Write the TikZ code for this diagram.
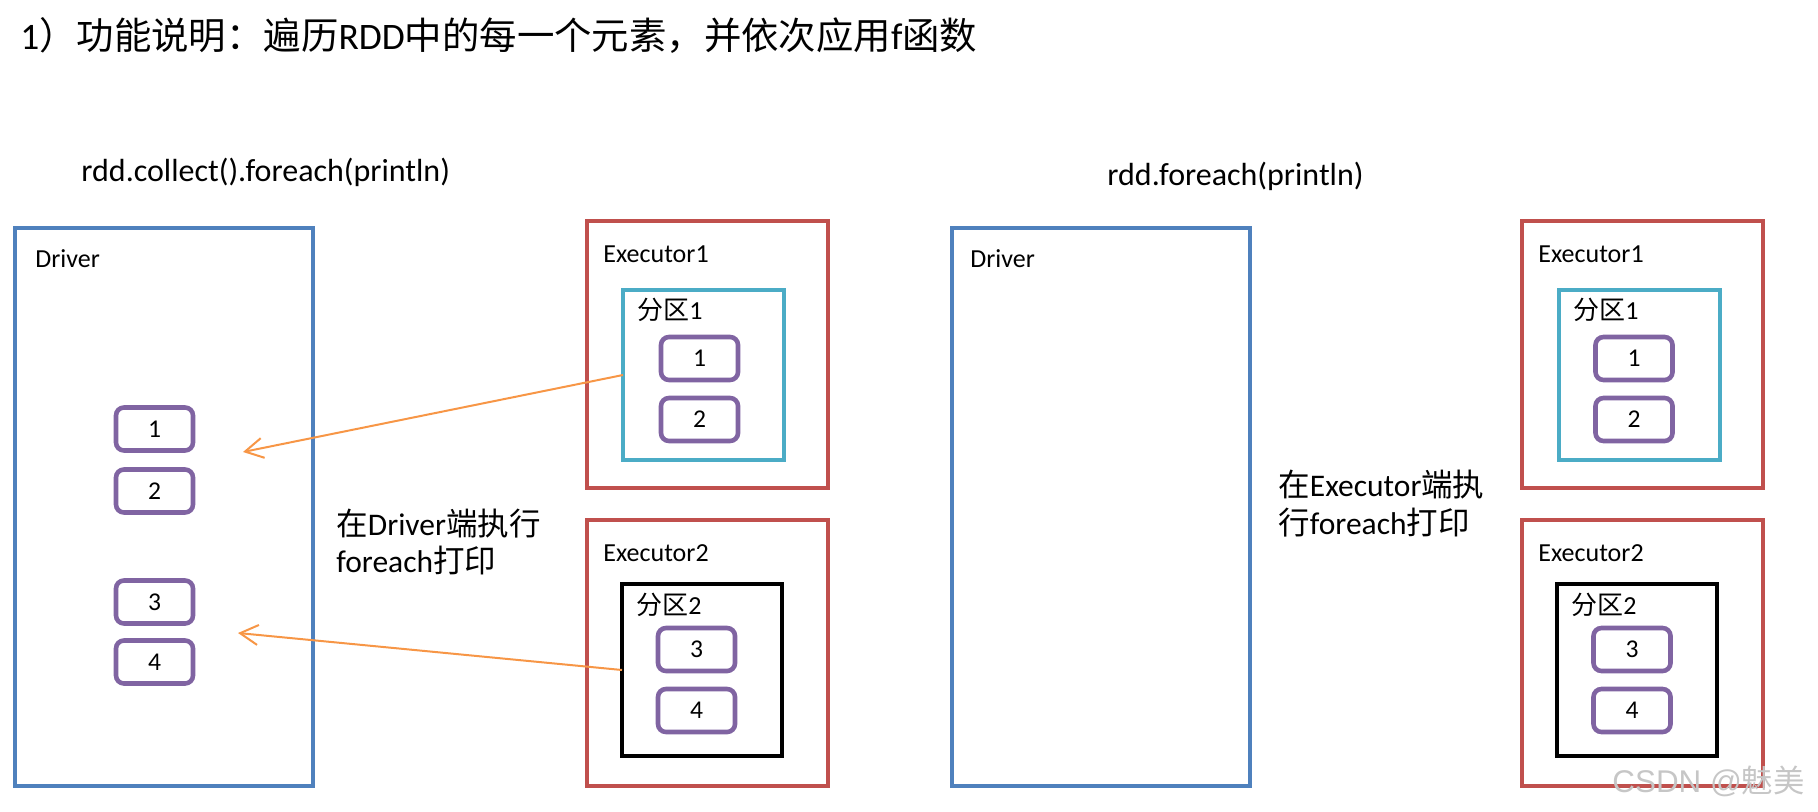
\documentclass[tikz,border=0pt]{standalone}
\usepackage{fontspec}
\setmainfont{Carlito}
\newfontfamily\cjk{Noto Sans CJK SC}
\newfontfamily\wmfont{Liberation Sans}
\usetikzlibrary{arrows.meta}
\definecolor{obl}{HTML}{4F81BD}
\definecolor{ored}{HTML}{C0504D}
\definecolor{ocy}{HTML}{4BACC6}
\definecolor{opu}{HTML}{8064A2}
\definecolor{oor}{HTML}{F79646}
\newcommand{\zh}[1]{{\cjk #1}}
\begin{document}
\begin{tikzpicture}[x=0.5pt,y=-0.5pt,
 box/.style={draw, line width=2pt, inner sep=0pt, outer sep=0pt},
 drv/.style={box, draw=obl, minimum width=149pt, minimum height=279pt},
 exe/.style={box, draw=ored, minimum width=120.5pt, minimum height=133pt},
 partA/.style={box, draw=ocy, minimum width=80.5pt, minimum height=85pt},
 partB/.style={box, draw=black, minimum width=80pt, minimum height=86pt},
 item/.style={box, draw=opu, line width=2.3pt, rounded corners=4pt, minimum width=38.5pt, minimum height=21.5pt, font=\fontsize{12.8pt}{14pt}\selectfont},
 lbl/.style={anchor=base west, inner sep=0pt, font=\fontsize{13pt}{15pt}\selectfont},
 big/.style={anchor=base west, inner sep=0pt, font=\fontsize{15.75pt}{18pt}\selectfont},
 sub/.style={anchor=base west, inner sep=0pt, font=\fontsize{16pt}{18pt}\selectfont},
 arr/.style={draw=oor, line width=1pt, -{Straight Barb[length=9pt,width=10pt]}}
]
\useasboundingbox (0,0) rectangle (1818,812);

% title
\node[anchor=base west, inner sep=0pt, font=\fontsize{18.7pt}{21pt}\selectfont] (title) at (20,50)
  {1\zh{）功能说明：遍历}RDD\zh{中的每一个元素，并依次应用}f\zh{函数}};

% ---------- left half ----------
\node[sub] (subL) at (81,182) {rdd.collect().foreach(println)};

\node[drv] (drvL) at (164,507) {};
\node[lbl] (drvLlbl) at (35,268) {Driver};
\node[item] (d1) at (154.5,429) {1};
\node[item] (d2) at (154.5,491) {2};
\node[item] (d3) at (154.5,602) {3};
\node[item] (d4) at (154.5,662) {4};

\node[exe] (ex1L) at (707.5,354.5) {};
\node[lbl] (ex1Llbl) at (603,263) {Executor1};
\node[partA] (p1L) at (703.5,375) {};
\node[lbl] (p1Llbl) at (637,320) {\zh{分区}1};
\node[item] (e1L) at (699.5,358.5) {1};
\node[item] (e2L) at (699.5,419.5) {2};

\node[exe] (ex2L) at (707.5,653) {};
\node[lbl] (ex2Llbl) at (603,561) {Executor2};
\node[partB] (p2L) at (702,670) {};
\node[lbl] (p2Llbl) at (636,614) {\zh{分区}2};
\node[item] (e3L) at (696.5,649.5) {3};
\node[item] (e4L) at (696.5,710.5) {4};

\node[big] (midL1) at (336,535) {\zh{在}Driver\zh{端执行}};
\node[big] (midL2) at (336,572) {foreach\zh{打印}};

\coordinate (a1end) at (243,452);
\coordinate (a2end) at (238,633);
\draw[arr] (p1L.west) -- (a1end);
\draw[arr] (p2L.west) -- (a2end);

% ---------- right half ----------
\node[sub] (subR) at (1107,186) {rdd.foreach(println)};

\node[drv] (drvR) at (1100.5,507) {};
\node[lbl] (drvRlbl) at (970,268) {Driver};

\node[exe] (ex1R) at (1642,354.5) {};
\node[lbl] (ex1Rlbl) at (1538,263) {Executor1};
\node[partA] (p1R) at (1639,375) {};
\node[lbl] (p1Rlbl) at (1573,320) {\zh{分区}1};
\node[item] (e1R) at (1634,358.5) {1};
\node[item] (e2R) at (1634,419.5) {2};

\node[exe] (ex2R) at (1642,653) {};
\node[lbl] (ex2Rlbl) at (1538,561) {Executor2};
\node[partB] (p2R) at (1637,670) {};
\node[lbl] (p2Rlbl) at (1571,614) {\zh{分区}2};
\node[item] (e3R) at (1632,649.5) {3};
\node[item] (e4R) at (1632,710.5) {4};

\node[big] (midR1) at (1278,496) {\zh{在}Executor\zh{端执}};
\node[big] (midR2) at (1278,534) {\zh{行}foreach\zh{打印}};

% watermark
\node[anchor=base west, inner sep=0pt, text=gray!45, font=\wmfont\fontsize{15.7pt}{17pt}\selectfont] (wm) at (1612,792) {CSDN @\zh{魅美}};
\end{tikzpicture}
\end{document}
